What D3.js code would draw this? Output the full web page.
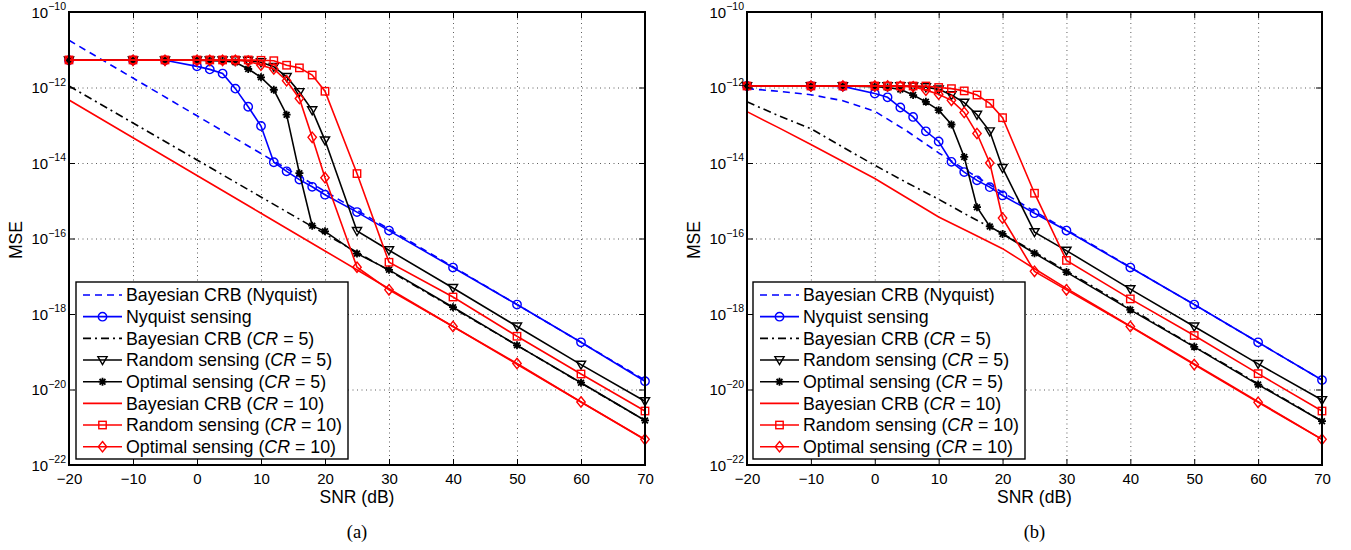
<!DOCTYPE html>
<html>
<head>
<meta charset="utf-8">
<script src="https://cdn.jsdelivr.net/npm/d3@7"></script>
<style>
  body { margin: 0; background: #fff; }
  svg { display: block; font-family: "Liberation Sans", Arial, Helvetica, sans-serif; }
</style>
</head>
<body>
<script>
"use strict";

// SNR grid of the simulated (marked) curves
const snrMarked = [-20, -10, -5, 0, 2, 4, 6, 8, 10, 12, 14, 16, 18, 20, 25, 30, 40, 50, 60, 70];
// SNR grids of the Bayesian CRB curves
const snrCrbA = [-20, -10, 0, 10, 20, 30, 40, 50, 60, 70];
const snrCrbB = [-20, -15, -10, -5, 0, 5, 10, 15, 20, 25, 30, 35, 40, 45, 50, 55, 60, 65, 70];

const xTicks = [-20, -10, 0, 10, 20, 30, 40, 50, 60, 70];
const yTickExponents = [-22, -20, -18, -16, -14, -12, -10];

// values below are log10(MSE)
// panel (a)
const crbNyquistA = [-10.75, -11.75, -12.75, -13.75, -14.75, -15.75, -16.75, -17.75, -18.75, -19.75];
const nyquistA = [-11.28, -11.28, -11.28, -11.44, -11.52, -11.63, -12.03, -12.51, -13.02, -13.98, -14.22, -14.44, -14.63, -14.84, -15.30, -15.79, -16.77, -17.75, -18.75, -19.78];
const crbCr5A = [-11.96, -12.94, -13.92, -14.90, -15.88, -16.85, -17.84, -18.83, -19.83, -20.82];
const randomCr5A = [-11.28, -11.28, -11.28, -11.28, -11.28, -11.28, -11.28, -11.29, -11.33, -11.45, -11.72, -12.12, -12.60, -13.40, -15.80, -16.31, -17.31, -18.33, -19.34, -20.31];
const optimalCr5A = [-11.28, -11.28, -11.28, -11.28, -11.29, -11.30, -11.33, -11.51, -11.73, -12.06, -12.72, -14.27, -15.66, -15.81, -16.40, -16.83, -17.82, -18.83, -19.82, -20.82];
const crbCr10A = [-12.33, -13.33, -14.33, -15.33, -16.33, -17.33, -18.33, -19.33, -20.33, -21.33];
const randomCr10A = [-11.27, -11.27, -11.27, -11.27, -11.27, -11.27, -11.27, -11.27, -11.28, -11.29, -11.41, -11.48, -11.67, -12.10, -14.28, -16.63, -17.55, -18.59, -19.59, -20.57];
const optimalCr10A = [-11.28, -11.28, -11.28, -11.28, -11.28, -11.28, -11.28, -11.30, -11.41, -11.51, -11.82, -12.29, -13.32, -14.39, -16.76, -17.36, -18.33, -19.31, -20.33, -21.32];

// panel (b)
const crbNyquistB = [-12.03, -12.10, -12.19, -12.35, -12.63, -13.15, -13.73, -14.27, -14.78, -15.28, -15.77, -16.26, -16.76, -17.26, -17.75, -18.25, -18.75, -19.25, -19.75];
const nyquistB = [-11.96, -11.96, -11.97, -12.16, -12.26, -12.53, -12.78, -13.16, -13.43, -13.97, -14.24, -14.46, -14.64, -14.86, -15.33, -15.79, -16.77, -17.75, -18.75, -19.75];
const crbCr5B = [-12.38, -12.75, -13.09, -13.58, -14.06, -14.52, -14.96, -15.43, -15.87, -16.36, -16.86, -17.36, -17.86, -18.36, -18.86, -19.35, -19.85, -20.34, -20.84];
const randomCr5B = [-11.96, -11.96, -11.96, -11.96, -11.96, -11.96, -11.97, -11.99, -12.05, -12.20, -12.40, -12.72, -13.16, -14.13, -15.83, -16.32, -17.34, -18.33, -19.32, -20.28];
const optimalCr5B = [-11.96, -11.96, -11.96, -11.98, -12.00, -12.05, -12.20, -12.38, -12.60, -12.98, -13.84, -15.17, -15.68, -15.88, -16.39, -16.89, -17.89, -18.87, -19.87, -20.84];
const crbCr10B = [-12.64, -13.07, -13.51, -13.96, -14.41, -14.92, -15.43, -15.85, -16.27, -16.80, -17.32, -17.82, -18.32, -18.82, -19.32, -19.82, -20.32, -20.82, -21.32];
const randomCr10B = [-11.96, -11.96, -11.96, -11.96, -11.96, -11.96, -11.96, -11.96, -12.00, -12.03, -12.09, -12.20, -12.42, -12.80, -14.80, -16.58, -17.60, -18.57, -19.58, -20.57];
const optimalCr10B = [-11.96, -11.96, -11.96, -11.96, -11.96, -11.97, -11.98, -12.07, -12.18, -12.34, -12.66, -13.22, -14.00, -15.46, -16.87, -17.36, -18.33, -19.34, -20.34, -21.32];

// legend labels, [text, italic]
const legendLabels = [
    [["Bayesian CRB (Nyquist)", false]],
    [["Nyquist sensing", false]],
    [["Bayesian CRB (", false], ["CR", true], [" = 5)", false]],
    [["Random sensing (", false], ["CR", true], [" = 5)", false]],
    [["Optimal sensing (", false], ["CR", true], [" = 5)", false]],
    [["Bayesian CRB (", false], ["CR", true], [" = 10)", false]],
    [["Random sensing (", false], ["CR", true], [" = 10)", false]],
    [["Optimal sensing (", false], ["CR", true], [" = 10)", false]]
];

(function(){
    const measurements = {
        width: 1351,
        height: 550,
        top: 12,
        bottom: 465
    }

    // style for each of the 8 curves, in legend order
    const styles = [
        { color: "#0000ff", dash: "7,5", marker: null },
        { color: "#0000ff", dash: null, marker: "circle" },
        { color: "#000000", dash: "8,4,2,4", marker: null },
        { color: "#000000", dash: null, marker: "triangle" },
        { color: "#000000", dash: null, marker: "star" },
        { color: "#ff0000", dash: null, marker: null },
        { color: "#ff0000", dash: null, marker: "square" },
        { color: "#ff0000", dash: null, marker: "diamond" }
    ]

    const panels = [
        {
            left: 69, right: 645, caption: "(a)", legendX: 76,
            series: [[snrCrbA, crbNyquistA], [snrMarked, nyquistA], [snrCrbA, crbCr5A], [snrMarked, randomCr5A],
                     [snrMarked, optimalCr5A], [snrCrbA, crbCr10A], [snrMarked, randomCr10A], [snrMarked, optimalCr10A]]
        },
        {
            left: 747, right: 1322, caption: "(b)", legendX: 753,
            series: [[snrCrbB, crbNyquistB], [snrMarked, nyquistB], [snrCrbB, crbCr5B], [snrMarked, randomCr5B],
                     [snrMarked, optimalCr5B], [snrCrbB, crbCr10B], [snrMarked, randomCr10B], [snrMarked, optimalCr10B]]
        }
    ]

    const svg = d3.select("body").append("svg")
        .attr("width", measurements.width)
        .attr("height", measurements.height);

    panels.forEach(drawPanel);

    function drawPanel(panel) {
        const plotH = measurements.bottom - measurements.top;
        const plotW = panel.right - panel.left;

        const scaleX = d3.scaleLinear()
            .domain([-20, 70])
            .range([panel.left, panel.right]);
        const scaleY = d3.scaleLog()
            .domain([1e-22, 1e-10])
            .range([measurements.bottom, measurements.top]);

        const g = svg.append("g");

        // dotted grid
        g.append("g")
            .attr("transform", "translate(0," + measurements.bottom + ")")
            .call(d3.axisBottom(scaleX).tickValues(xTicks.slice(1, -1)).tickSize(-plotH).tickFormat(""))
            .call(s => s.select(".domain").remove())
            .selectAll("line")
            .attr("stroke", "#333")
            .attr("stroke-width", 0.8)
            .attr("stroke-dasharray", "1,3.5");
        g.append("g")
            .attr("transform", "translate(" + panel.left + ",0)")
            .call(d3.axisLeft(scaleY).tickValues(yTickExponents.slice(1, -1).map(e => Math.pow(10, e))).tickSize(-plotW).tickFormat(""))
            .call(s => s.select(".domain").remove())
            .selectAll("line")
            .attr("stroke", "#333")
            .attr("stroke-width", 0.8)
            .attr("stroke-dasharray", "1,3.5");

        // curves
        const line = d3.line()
            .x(d => scaleX(d[0]))
            .y(d => scaleY(Math.pow(10, d[1])));

        panel.series.forEach((s, i) => {
            const st = styles[i];
            const pts = s[0].map((x, k) => [x, s[1][k]]);
            g.append("path")
                .datum(pts)
                .attr("fill", "none")
                .attr("stroke", st.color)
                .attr("stroke-width", 1.6)
                .attr("stroke-dasharray", st.dash)
                .attr("d", line);
            if (st.marker) {
                g.selectAll(null)
                    .data(pts)
                    .enter()
                    .append("g")
                    .attr("transform", d => "translate(" + scaleX(d[0]) + "," + scaleY(Math.pow(10, d[1])) + ")")
                    .each(function() { drawMarker(d3.select(this), st.marker, st.color); });
            }
        });

        // axes: ticks pointing inward on all four sides
        const xAxis = g.append("g")
            .attr("transform", "translate(0," + measurements.bottom + ")")
            .call(d3.axisBottom(scaleX).tickValues(xTicks).tickSizeInner(-6).tickSizeOuter(0).tickPadding(8)
                .tickFormat(d => d < 0 ? "\u2212" + Math.abs(d) : d))
            .attr("font-family", null)
            .attr("font-size", null);
        xAxis.select(".domain").remove();
        xAxis.selectAll("text").attr("font-size", 15).attr("fill", "#000");
        xAxis.selectAll("line").attr("stroke-width", 1);

        g.append("g")
            .attr("transform", "translate(0," + measurements.top + ")")
            .call(d3.axisTop(scaleX).tickValues(xTicks).tickSizeInner(-6).tickSizeOuter(0).tickFormat(""))
            .call(s => s.select(".domain").remove());

        const yTickVals = yTickExponents.map(e => Math.pow(10, e));
        const yAxis = g.append("g")
            .attr("transform", "translate(" + panel.left + ",0)")
            .call(d3.axisLeft(scaleY).tickValues(yTickVals).tickSizeInner(-6).tickSizeOuter(0).tickPadding(3).tickFormat(""))
            .attr("font-family", null)
            .attr("font-size", null);
        yAxis.select(".domain").remove();
        yAxis.selectAll(".tick text").each(function(d) {
            const t = d3.select(this)
                .attr("font-size", 15)
                .attr("fill", "#000")
                .attr("dy", "0.36em");
            t.append("tspan").text("10");
            t.append("tspan")
                .attr("font-size", 10.5)
                .attr("dy", -7.5)
                .text("\u2212" + Math.abs(Math.round(Math.log10(d))));
        });

        g.append("g")
            .attr("transform", "translate(" + panel.right + ",0)")
            .call(d3.axisRight(scaleY).tickValues(yTickVals).tickSizeInner(-6).tickSizeOuter(0).tickFormat(""))
            .call(s => s.select(".domain").remove());

        // frame
        g.append("rect")
            .attr("x", panel.left)
            .attr("y", measurements.top)
            .attr("width", plotW)
            .attr("height", plotH)
            .attr("fill", "none")
            .attr("stroke", "#000")
            .attr("stroke-width", 2);

        // axis labels
        g.append("text")
            .attr("x", (panel.left + panel.right) / 2)
            .attr("y", 503)
            .attr("text-anchor", "middle")
            .attr("font-size", 17.5)
            .text("SNR (dB)");
        g.append("text")
            .attr("transform", "translate(" + (panel.left - 47) + ",240) rotate(-90)")
            .attr("text-anchor", "middle")
            .attr("font-size", 17.5)
            .text("MSE");
        g.append("text")
            .attr("x", (panel.left + panel.right) / 2)
            .attr("y", 538)
            .attr("text-anchor", "middle")
            .attr("font-family", "'Liberation Serif', 'Times New Roman', serif")
            .attr("font-size", 18.5)
            .text(panel.caption);

        drawLegend(g, panel.legendX);
    }

    function drawLegend(g, x0) {
        const top = 282, rowH = 21.67, firstRow = 295;
        g.append("rect")
            .attr("x", x0)
            .attr("y", top)
            .attr("width", 272)
            .attr("height", 177)
            .attr("fill", "#fff")
            .attr("stroke", "#000")
            .attr("stroke-width", 1.4);

        legendLabels.forEach((parts, i) => {
            const st = styles[i];
            const y = firstRow + i * rowH;
            g.append("line")
                .attr("x1", x0 + 7)
                .attr("x2", x0 + 46)
                .attr("y1", y)
                .attr("y2", y)
                .attr("stroke", st.color)
                .attr("stroke-width", 1.6)
                .attr("stroke-dasharray", st.dash);
            if (st.marker) {
                const m = g.append("g").attr("transform", "translate(" + (x0 + 26.5) + "," + y + ")");
                drawMarker(m, st.marker, st.color);
            }
            const t = g.append("text")
                .attr("x", x0 + 50)
                .attr("y", y)
                .attr("dy", "0.36em")
                .attr("font-size", 17.8);
            parts.forEach(p => {
                t.append("tspan")
                    .attr("font-style", p[1] ? "italic" : null)
                    .text(p[0]);
            });
        });
    }

    function drawMarker(sel, type, color) {
        if (type === "circle") {
            sel.append("circle").attr("r", 4.2);
        } else if (type === "triangle") {
            sel.append("path").attr("d", "M-4.6,-3.4L4.6,-3.4L0,4.6Z");
        } else if (type === "square") {
            sel.append("rect").attr("x", -3.7).attr("y", -3.7).attr("width", 7.4).attr("height", 7.4);
        } else if (type === "diamond") {
            sel.append("path").attr("d", "M0,-5.2L4.2,0L0,5.2L-4.2,0Z");
        } else if (type === "star") {
            sel.append("path").attr("d", "M-4,0H4M0,-4V4M-2.9,-2.9L2.9,2.9M-2.9,2.9L2.9,-2.9");
        }
        sel.selectAll("*")
            .attr("fill", "none")
            .attr("stroke", color)
            .attr("stroke-width", type === "star" ? 1.8 : 1.4);
    }
})()
</script>
</body>
</html>
